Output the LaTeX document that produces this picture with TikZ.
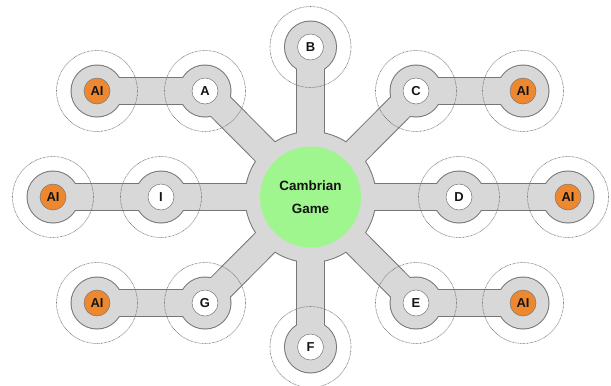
\documentclass[tikz,border=0pt]{standalone}
\usepackage{fontspec}
\setmainfont{Liberation Sans}
\definecolor{hubgray}{RGB}{216,216,216}
\definecolor{edgegray}{RGB}{118,118,118}
\definecolor{dotgray}{RGB}{110,110,110}
\definecolor{aiorange}{RGB}{238,136,48}
\definecolor{gamegreen}{RGB}{160,246,142}
\definecolor{inkblack}{RGB}{20,20,20}
\pgfdeclarelayer{edgelayer}
\pgfdeclarelayer{filllayer}
\pgfsetlayers{edgelayer,filllayer,main}
\tikzset{
  letternode/.style={circle,minimum size=26bp,inner sep=0pt,fill=white,draw=edgegray,line width=0.5bp,
    font=\fontsize{13}{14}\selectfont\bfseries,text=inkblack},
  ainode/.style={letternode,fill=aiorange},
  gamenode/.style={circle,minimum size=101bp,inner sep=0pt,fill=gamegreen,align=center,
    font=\fontsize{13.5}{23}\selectfont\bfseries,text=inkblack},
  outerbar/.style={line width=28.5bp,edgegray},
  innerbar/.style={line width=26.5bp,hubgray},
  ring/.style={draw=dotgray,line width=0.6bp,dash pattern=on 0.7bp off 0.7bp},
}
\begin{document}
\begin{tikzpicture}[x=1bp,y=-1bp]
\clip (0,0) rectangle (611,385);
% nodes
\node[gamenode] (hub) at (310.5,197) {Cambrian\\Game};
\node[letternode] (A) at (205,91) {A};
\node[letternode] (B) at (310.5,47) {B};
\node[letternode] (C) at (416,91) {C};
\node[letternode] (D) at (459,197) {D};
\node[letternode] (E) at (416,303) {E};
\node[letternode] (F) at (310.5,347) {F};
\node[letternode] (G) at (205,303) {G};
\node[letternode] (I) at (161,197) {I};
\node[ainode] (aiA) at (97,91) {AI};
\node[ainode] (aiC) at (523,91) {AI};
\node[ainode] (aiI) at (53,197) {AI};
\node[ainode] (aiD) at (568,197) {AI};
\node[ainode] (aiG) at (97,303) {AI};
\node[ainode] (aiE) at (523,303) {AI};
% dotted rings
\foreach \n in {A,B,C,D,E,F,G,I,aiA,aiC,aiI,aiD,aiG,aiE}
  \draw[ring] (\n.center) circle (40.5);
% gray body: outline layer
\begin{pgfonlayer}{edgelayer}
  \fill[white] (0,0) rectangle (611,385);
  \fill[edgegray] (hub.center) circle (66);
  \foreach \n in {A,B,C,D,E,F,G,I,aiA,aiC,aiI,aiD,aiG,aiE}
    \fill[edgegray] (\n.center) circle (26.5);
  \foreach \n in {A,B,C,D,E,F,G,I}
    \draw[outerbar] (hub) -- (\n);
  \draw[outerbar] (A) -- (aiA);
  \draw[outerbar] (C) -- (aiC);
  \draw[outerbar] (I) -- (aiI);
  \draw[outerbar] (D) -- (aiD);
  \draw[outerbar] (G) -- (aiG);
  \draw[outerbar] (E) -- (aiE);
\end{pgfonlayer}
% gray body: fill layer
\begin{pgfonlayer}{filllayer}
  \fill[hubgray] (hub.center) circle (65);
  \foreach \n in {A,B,C,D,E,F,G,I,aiA,aiC,aiI,aiD,aiG,aiE}
    \fill[hubgray] (\n.center) circle (25.5);
  \foreach \n in {A,B,C,D,E,F,G,I}
    \draw[innerbar] (hub) -- (\n);
  \draw[innerbar] (A) -- (aiA);
  \draw[innerbar] (C) -- (aiC);
  \draw[innerbar] (I) -- (aiI);
  \draw[innerbar] (D) -- (aiD);
  \draw[innerbar] (G) -- (aiG);
  \draw[innerbar] (E) -- (aiE);
\end{pgfonlayer}
\end{tikzpicture}
\end{document}
